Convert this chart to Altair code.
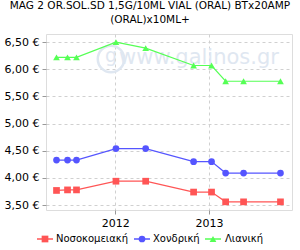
import altair as alt
import pandas as pd

title_lines = ["MAG 2 OR.SOL.SD 1,5G/10ML VIAL (ORAL) BTx20AMP", "(ORAL)x10ML+"]
dates = ["2011-05-17", "2011-06-29", "2011-08-03", "2012-01-04", "2012-04-29",
         "2012-11-02", "2013-01-11", "2013-03-07", "2013-05-16", "2013-10-07"]
series_names = ["Νοσοκομειακή", "Χονδρική", "Λιανική"]
hospital = [3.77, 3.78, 3.78, 3.94, 3.94, 3.74, 3.74, 3.56, 3.56, 3.56]
wholesale = [4.33, 4.33, 4.33, 4.54, 4.54, 4.30, 4.30, 4.09, 4.09, 4.09]
retail = [6.22, 6.22, 6.22, 6.50, 6.39, 6.07, 6.07, 5.78, 5.78, 5.78]
colors = ["#FF5555", "#5555FF", "#55FF55"]
shapes = ["square", "circle", "triangle-up"]
y_ticks = [3.5, 4.0, 4.5, 5.0, 5.5, 6.0, 6.5]

rows = []
for name, vals in zip(series_names, [hospital, wholesale, retail]):
    for d, v in zip(dates, vals):
        rows.append({"date": d, "price": v, "series": name})
df = pd.DataFrame(rows)

FONT = "DejaVu Sans"
W, H = 246, 176
LEFT = 46

x_enc = alt.X("date:T", scale=alt.Scale(domain=["2011-04-06", "2013-11-21"]),
              axis=alt.Axis(title=None, format="%Y", tickCount={"interval": "year", "step": 1},
                            grid=True, gridDash=[3, 3], gridColor="#d0d0d0",
                            domain=False, tickColor="#999", tickSize=4,
                            labelFont=FONT, labelFontSize=11, labelColor="#000", labelPadding=3))
y_enc = alt.Y("price:Q", scale=alt.Scale(domain=[3.41, 6.65], nice=False, zero=False),
              axis=alt.Axis(title=None, values=y_ticks,
                            labelExpr="replace(format(datum.value, '.2f'), '.', ',') + ' €'",
                            grid=True, gridDash=[3, 3], gridColor="#d0d0d0",
                            domain=False, tickColor="#999", tickSize=4,
                            labelFont=FONT, labelFontSize=11, labelColor="#000", labelPadding=3))
color_enc = alt.Color("series:N", scale=alt.Scale(domain=series_names, range=colors), legend=None)
shape_enc = alt.Shape("series:N", scale=alt.Scale(domain=series_names, range=shapes), legend=None)

base = alt.Chart(df)
lines = base.mark_line(strokeWidth=1.2).encode(x=x_enc, y=y_enc, color=color_enc, detail="series:N")
points = base.mark_point(filled=True, size=45, opacity=1).encode(x=x_enc, y=y_enc, color=color_enc, shape=shape_enc)

WM = "#dfe7f1"
wm_df = pd.DataFrame({"t": ["www.galinos.gr"]})
watermark = alt.Chart(wm_df).mark_text(font=FONT, fontSize=21, color=WM, align="center",
                                       baseline="middle").encode(
    x=alt.value(199 - LEFT), y=alt.value(24), text="t:N")
logo_df = pd.DataFrame({"t": ["g"]})
logo_circle = alt.Chart(logo_df).mark_point(shape="circle", size=700, filled=False, color=WM,
                                            strokeWidth=2.5, opacity=1).encode(x=alt.value(111 - LEFT), y=alt.value(25))
logo_g = alt.Chart(logo_df).mark_text(font=FONT, fontSize=19, color=WM, baseline="middle",
                                      align="center").encode(x=alt.value(111 - LEFT), y=alt.value(22), text="t:N")

legend_layers = []
sym_x = [45, 142, 213]
txt_x = [56, 153, 225]
ly = 205
for name, c, s, sx, tx in zip(series_names, colors, shapes, sym_x, txt_x):
    ldf = pd.DataFrame({"t": [name]})
    legend_layers.append(alt.Chart(ldf).mark_rule(color=c, strokeWidth=1.5).encode(
        x=alt.value(sx - 8 - LEFT), x2=alt.value(sx + 8 - LEFT), y=alt.value(ly)))
    legend_layers.append(alt.Chart(ldf).mark_point(shape=s, filled=True, size=45, color=c, opacity=1).encode(
        x=alt.value(sx - LEFT), y=alt.value(ly)))
    legend_layers.append(alt.Chart(ldf).mark_text(font=FONT, fontSize=10, color="#000", align="left",
                                                  baseline="middle").encode(
        x=alt.value(tx - LEFT), y=alt.value(ly), text="t:N"))

chart = alt.layer(watermark, logo_circle, logo_g, lines, points, *legend_layers).properties(
    width=W, height=H,
    title=alt.TitleParams(text=title_lines, font=FONT, fontSize=10.5, fontWeight="normal",
                          color="#000", anchor="middle", dx=-19, offset=9, lineHeight=14),
    autosize=alt.AutoSizeParams(type="none"),
    padding={"left": LEFT, "top": 34, "right": 8, "bottom": 40},
).configure_view(stroke="#aaaaaa", strokeWidth=1.5).configure(background="white")

chart.save("out.html", embed_options={"renderer": "svg", "actions": False})
